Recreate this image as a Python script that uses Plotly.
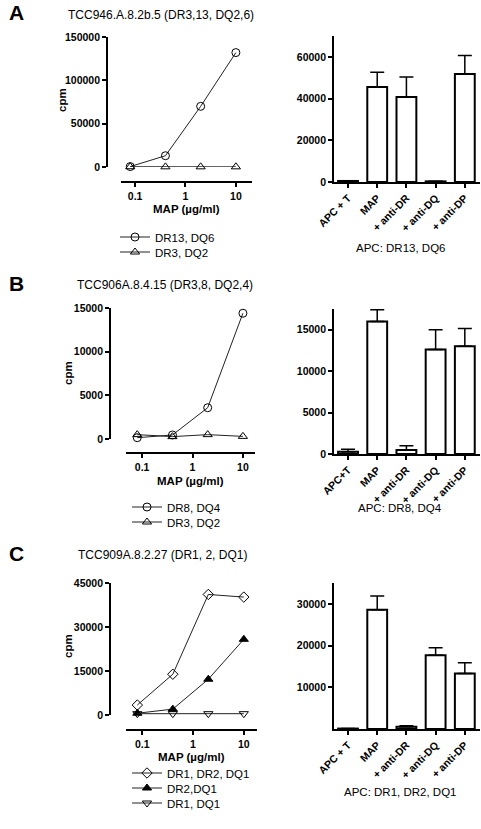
import plotly.graph_objects as go

W, H = 481, 829

# ---------------- data ----------------
conc = [0.08, 0.4, 2, 10]

A_title = "TCC946.A.8.2b.5 (DR3,13, DQ2,6)"
A_names = ["DR13, DQ6", "DR3, DQ2"]
A_dr13_dq6 = [500, 13000, 70000, 132000]
A_dr3_dq2 = [300, 200, 200, 200]

B_title = "TCC906A.8.4.15 (DR3,8, DQ2,4)"
B_names = ["DR8, DQ4", "DR3, DQ2"]
B_dr8_dq4 = [150, 460, 3580, 14400]
B_dr3_dq2 = [500, 270, 500, 300]

C_title = "TCC909A.8.2.27 (DR1, 2, DQ1)"
C_names = ["DR1, DR2, DQ1", "DR2,DQ1", "DR1, DQ1"]
C_dr1_dr2_dq1 = [3400, 13900, 41100, 40200]
C_dr2_dq1 = [600, 2000, 12200, 25800]
C_dr1_dq1 = [450, 450, 450, 450]

A_bar_cats = ["APC + T", "MAP", "+ anti-DR", "+ anti-DQ", "+ anti-DP"]
A_bar_vals = [500, 45500, 40800, 300, 51800]
A_bar_err = [0, 7100, 9600, 0, 8800]
A_bar_label = "APC: DR13, DQ6"

B_bar_cats = ["APC+T", "MAP", "+ anti-DR", "+ anti-DQ", "+ anti-DP"]
B_bar_vals = [280, 16000, 480, 12600, 13000]
B_bar_err = [290, 1400, 520, 2400, 2150]
B_bar_label = "APC: DR8, DQ4"

C_bar_cats = ["APC + T", "MAP", "+ anti-DR", "+ anti-DQ", "+ anti-DP"]
C_bar_vals = [100, 28600, 560, 17700, 13300]
C_bar_err = [0, 3300, 240, 1800, 2600]
C_bar_label = "APC: DR1, DR2, DQ1"

A_line_yticks = [0, 50000, 100000, 150000]
B_line_yticks = [0, 5000, 10000, 15000]
C_line_yticks = [0, 15000, 30000, 45000]
A_bar_yticks = [0, 20000, 40000, 60000]
B_bar_yticks = [0, 5000, 10000, 15000]
C_bar_yticks = [10000, 20000, 30000]
x_tickvals = [0.1, 1, 10]
x_ticktext = ["0.1", "1", "10"]

# ---------------- helpers ----------------
def px(x):
    return x / W


def py(y):
    return 1 - y / H


FONT = "Liberation Sans, Arial, sans-serif"
fig = go.Figure()
layout = dict(
    width=W, height=H, margin=dict(l=0, r=0, t=0, b=0, pad=0, autoexpand=False),
    paper_bgcolor="white", plot_bgcolor="white", showlegend=True,
    font=dict(family=FONT, color="black"),
)
annotations = []

def ann(text, x, y, size=11, bold=False, angle=0, xanchor="center"):
    annotations.append(dict(
        text=("<b>%s</b>" % text) if bold else text, x=px(x), y=py(y),
        xref="paper", yref="paper", showarrow=False, xanchor=xanchor,
        yanchor="middle", textangle=angle,
        font=dict(size=size, family=FONT, color="black")))

tickfont = dict(size=10.5, family=FONT, color="black", weight="bold")

# panels: line chart geometry (pixel)
panels = [
    dict(letter="A", top=37, bot=167, xaxis_y=182, yx=107, xl=121, xr=252,
         xlog=(-1.28, 1.32), yrange=150000, yticks=A_line_yticks,
         title=A_title, title_y=15, title_x=161,
         series=[(A_names[0], A_dr13_dq6, "circle-open"),
                 (A_names[1], A_dr3_dq2, "triangle-up-open")],
         leg_rows=[237, 252], leg_x=155, cpm=(62, 100), tick_y=193, map_y=209,
         bar=dict(top=36, bot=182, ymax=70000, yticks=A_bar_yticks,
                  cats=A_bar_cats, vals=A_bar_vals, err=A_bar_err,
                  label=A_bar_label, label_y=248)),
    dict(letter="B", top=308, bot=439, xaxis_y=453, yx=110, xl=126, xr=255,
         xlog=(-1.32, 1.24), yrange=15000, yticks=B_line_yticks,
         title=B_title, title_y=285, title_x=165,
         series=[(B_names[0], B_dr8_dq4, "circle-open"),
                 (B_names[1], B_dr3_dq2, "triangle-up-open")],
         leg_rows=[507, 522], leg_x=167, cpm=(68, 373), tick_y=467, map_y=481,
         bar=dict(top=309, bot=454, ymax=17500, yticks=B_bar_yticks,
                  cats=B_bar_cats, vals=B_bar_vals, err=B_bar_err,
                  label=B_bar_label, label_y=508)),
    dict(letter="C", top=583, bot=715, xaxis_y=730, yx=110, xl=126, xr=257,
         xlog=(-1.32, 1.26), yrange=45000, yticks=C_line_yticks,
         title=C_title, title_y=555, title_x=162,
         series=[(C_names[0], C_dr1_dr2_dq1, "diamond-open"),
                 (C_names[1], C_dr2_dq1, "triangle-up"),
                 (C_names[2], C_dr1_dq1, "triangle-down-open")],
         leg_rows=[773, 788, 803], leg_x=167, cpm=(68, 646), tick_y=743, map_y=757,
         bar=dict(top=583, bot=729, ymax=35000, yticks=C_bar_yticks,
                  cats=C_bar_cats, vals=C_bar_vals, err=C_bar_err,
                  label=C_bar_label, label_y=792)),
]

ax = 1
leg = 1
for p in panels:
    # ---- line chart ----
    xn = "x" if ax == 1 else "x%d" % ax
    yn = "y" if ax == 1 else "y%d" % ax
    xk = "xaxis" if ax == 1 else "xaxis%d" % ax
    yk = "yaxis" if ax == 1 else "yaxis%d" % ax
    layout[xk] = dict(
        type="log", domain=[px(p["xl"]), px(p["xr"])], range=list(p["xlog"]),
        anchor="free", position=py(p["xaxis_y"]),
        tickvals=x_tickvals, ticktext=["<b>%s</b>" % t for t in x_ticktext],
        showline=True, linecolor="black", linewidth=1.8, ticks="outside",
        ticklen=4, tickwidth=1.5, tickcolor="black", showgrid=False,
        zeroline=False, tickfont=tickfont, fixedrange=True)
    layout[yk] = dict(
        domain=[py(p["bot"]), py(p["top"])], range=[0, p["yrange"]],
        anchor="free", position=px(p["yx"]), tickvals=p["yticks"],
        tickformat="d", showline=True, linecolor="black", linewidth=1.8,
        ticks="outside", ticklen=4, tickwidth=1.5, tickcolor="black",
        showgrid=False, zeroline=False, tickfont=tickfont, fixedrange=True)
    for (name, vals, sym), row in zip(p["series"], p["leg_rows"]):
        lk = "legend" if leg == 1 else "legend%d" % leg
        fig.add_trace(go.Scatter(
            x=conc, y=vals, name=name, mode="lines+markers", xaxis=xn, yaxis=yn,
            line=dict(color="#222", width=1), cliponaxis=False, legend=lk,
            marker=dict(symbol=sym, size=8, color="black",
                        line=dict(color="black", width=1))))
        layout[lk] = dict(
            x=px(p["leg_x"] - 40), y=py(row), xanchor="left", yanchor="middle",
            bgcolor="rgba(0,0,0,0)", borderwidth=0, itemwidth=30,
            font=dict(size=11.5, family=FONT, color="black"),
            tracegroupgap=0)
        leg += 1
    ann(p["letter"], 16, p["title_y"] - 2, size=21, bold=True)
    ann(p["title"], p["title_x"], p["title_y"], size=12)
    ann("cpm", p["cpm"][0], p["cpm"][1], size=11.5, bold=True, angle=-90)
    ann("MAP (µg/ml)", (p["xl"] + p["xr"]) / 2 + 0, p["map_y"], size=11.5, bold=True)
    ax += 1

    # ---- bar chart ----
    b = p["bar"]
    xn = "x%d" % ax
    yn = "y%d" % ax
    xk = "xaxis%d" % ax
    yk = "yaxis%d" % ax
    layout[xk] = dict(
        domain=[px(334), px(480)], range=[-0.48, 4.52], anchor=yn,
        showline=True, linecolor="black", linewidth=1.8, ticks="outside",
        ticklen=4, tickwidth=1.5, tickcolor="black", showgrid=False,
        zeroline=False, tickangle=-45,
        tickfont=dict(size=10.5, family=FONT, color="black", weight="bold"),
        fixedrange=True)
    layout[yk] = dict(
        domain=[py(b["bot"]), py(b["top"])], range=[0, b["ymax"]], anchor=xn,
        tickvals=b["yticks"], tickformat="d", showline=True, linecolor="black",
        linewidth=1.8, ticks="outside", ticklen=4, tickwidth=1.5,
        tickcolor="black", showgrid=False, zeroline=False, tickfont=tickfont,
        fixedrange=True)
    fig.add_trace(go.Bar(
        x=b["cats"], y=b["vals"], xaxis=xn, yaxis=yn, width=0.68,
        showlegend=False,
        marker=dict(color="white", line=dict(color="black", width=2)),
        error_y=dict(type="data", array=b["err"], arrayminus=[0] * 5,
                     symmetric=False, color="black", thickness=1.5, width=7)))
    ann(b["label"], 400, b["label_y"], size=11.5)
    ax += 1

layout["annotations"] = annotations
fig.update_layout(**layout)
fig.write_html("out.html", config={"displayModeBar": False},
               post_script="document.body.style.margin='0';")
